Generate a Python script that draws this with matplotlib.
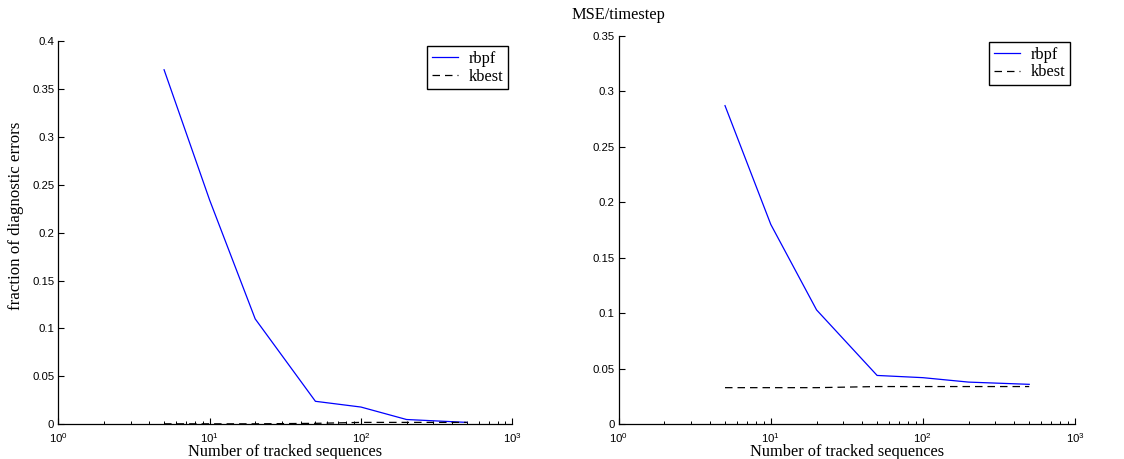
import matplotlib
matplotlib.use("Agg")
import matplotlib.pyplot as plt
from matplotlib.ticker import LogLocator

x_tracked = [5, 10, 20, 50, 100, 200, 500]
left_rbpf = [0.37, 0.234, 0.11, 0.024, 0.018, 0.005, 0.002]
left_kbest = [0.0005, 0.0005, 0.0005, 0.001, 0.002, 0.002, 0.002]
right_rbpf = [0.287, 0.180, 0.103, 0.044, 0.042, 0.038, 0.036]
right_kbest = [0.033, 0.033, 0.033, 0.034, 0.034, 0.034, 0.034]
left_yticks = [0, 0.05, 0.1, 0.15, 0.2, 0.25, 0.3, 0.35, 0.4]
right_yticks = [0, 0.05, 0.1, 0.15, 0.2, 0.25, 0.3, 0.35]
left_ytick_labels = ["0", "0.05", "0.1", "0.15", "0.2", "0.25", "0.3", "0.35", "0.4"]
right_ytick_labels = ["0", "0.05", "0.1", "0.15", "0.2", "0.25", "0.3", "0.35"]

plt.rcParams['font.family'] = ['Liberation Sans', 'DejaVu Sans']
plt.rcParams['mathtext.fontset'] = 'custom'
plt.rcParams['mathtext.rm'] = 'Liberation Sans'
plt.rcParams['mathtext.it'] = 'Liberation Sans'

fig = plt.figure(figsize=(11.24, 4.59), dpi=100)
W, H = 1124, 459

def make_axes(l, r, top, bot):
    return fig.add_axes([l / W, 1 - bot / H, (r - l) / W, (bot - top) / H])

axL = make_axes(58.3, 512.3, 41, 424.3)
axR = make_axes(618.7, 1075, 35.7, 424.3)

serif = ['Liberation Serif', 'DejaVu Serif']

for ax, rb, kb, ymax, yt, ytl, anchor in [
    (axL, left_rbpf, left_kbest, 0.4, left_yticks, left_ytick_labels, (0.9905, 0.987)),
    (axR, right_rbpf, right_kbest, 0.35, right_yticks, right_ytick_labels, (0.989, 0.984)),
]:
    ax.plot(x_tracked, rb, color='#0000ff', lw=0.9, label='rbpf')
    ax.plot(x_tracked, kb, color='black', lw=0.9, ls=(0, (6, 4)), label='kbest')
    ax.set_xscale('log')
    ax.set_xlim(1, 1000)
    ax.set_ylim(0, ymax)
    ax.set_yticks(yt)
    ax.set_yticklabels(ytl)
    ax.xaxis.set_major_locator(LogLocator(base=10, numticks=10))
    ax.xaxis.set_minor_locator(LogLocator(base=10, subs=range(2, 10), numticks=10))
    ax.spines['top'].set_visible(False)
    ax.spines['right'].set_visible(False)
    for s in ['left', 'bottom']:
        ax.spines[s].set_linewidth(0.9)
    ax.tick_params(axis='both', which='major', direction='in', length=4, width=0.8,
                   labelsize=8.2, pad=3)
    ax.tick_params(axis='x', which='major', pad=5)
    ax.tick_params(axis='x', which='minor', direction='in', length=2.5, width=0.7)
    ax.set_xlabel('Number of tracked sequences', fontsize=11.8, family=serif, labelpad=-1)
    leg = ax.legend(loc='upper right', bbox_to_anchor=anchor, borderaxespad=0,
                    fancybox=False, edgecolor='black', framealpha=1,
                    handlelength=1.6, handletextpad=0.6, borderpad=0.3,
                    labelspacing=0.1, prop={'family': serif, 'size': 11.8})
    leg.get_frame().set_linewidth(1.0)

axL.set_ylabel('fraction of diagnostic errors', fontsize=12.2, family=serif)
axL.yaxis.set_label_coords(-0.0755, 0.543)
fig.text(618 / W, 1 - 15 / H, 'MSE/timestep', ha='center', va='center',
         fontsize=11.8, family=serif)

fig.savefig('out.png', dpi=100)
